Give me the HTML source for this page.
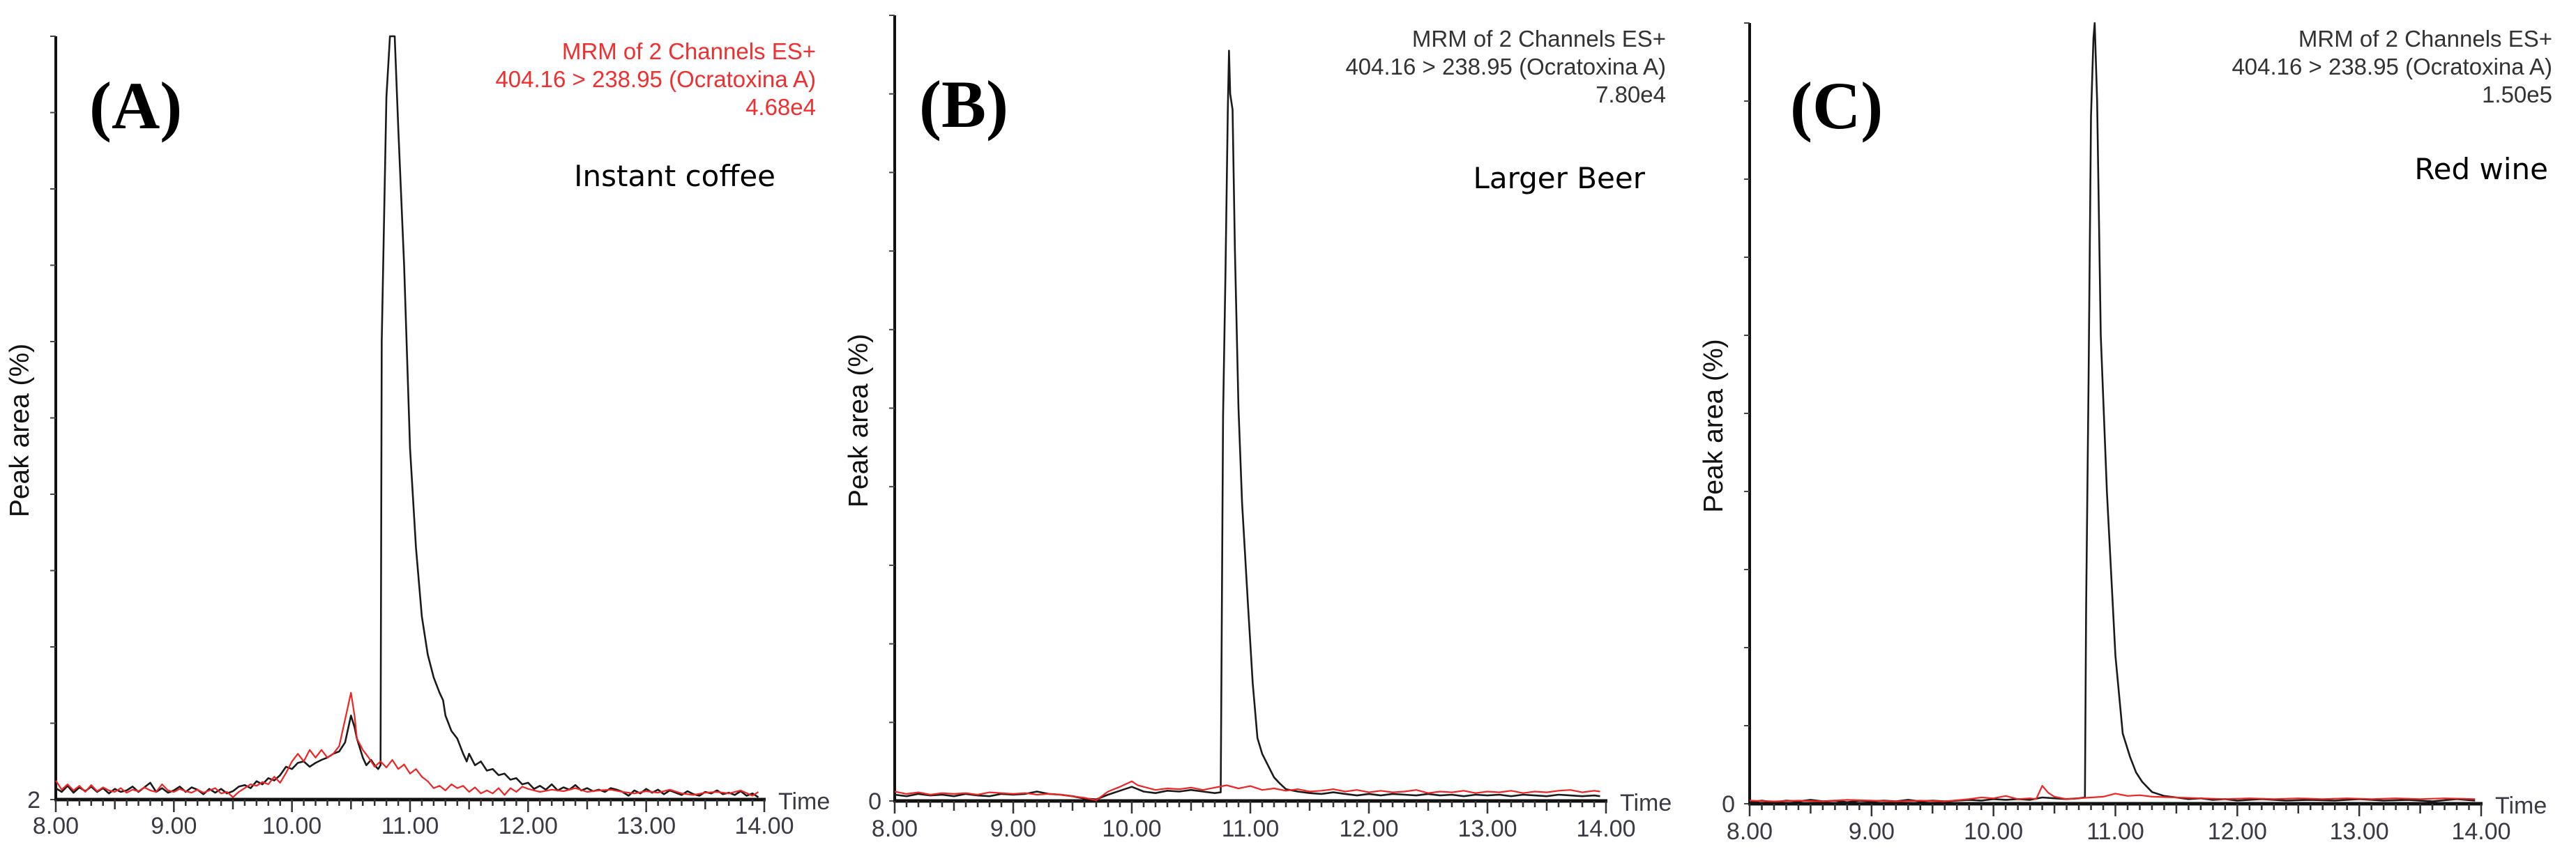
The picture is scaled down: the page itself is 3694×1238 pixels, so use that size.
<!DOCTYPE html>
<html><head><meta charset="utf-8"><style>
html,body{margin:0;padding:0;background:#fff;}
svg{display:block;}
</style></head><body>
<svg id="chart" width="3694" height="1238" viewBox="0 0 3694 1238" xmlns="http://www.w3.org/2000/svg"></svg>
<script>
// ---- data (time in min, intensity in % of full scale) ----
const xTickLabels = ["8.00","9.00","10.00","11.00","12.00","13.00","14.00"];
const xTickValues = [8,9,10,11,12,13,14];
const panelLetters = ["(A)","(B)","(C)"];
const sampleNames = ["Instant coffee","Larger Beer","Red wine"];
const intensityLabels = ["4.68e4","7.80e4","1.50e5"];
const yZeroLabels = ["2","0","0"];

const blackA = [[8.0,1.5],[8.05,1.0],[8.1,1.8],[8.15,0.9],[8.2,1.6],[8.25,1.1],[8.3,1.7],[8.35,1.0],[8.4,1.5],[8.45,0.8],[8.5,1.4],[8.55,1.0],[8.6,1.2],[8.65,1.7],[8.7,1.0],[8.8,2.2],[8.85,1.0],[8.9,1.5],[8.95,0.9],[9.0,1.2],[9.05,1.7],[9.1,1.0],[9.15,1.6],[9.2,1.3],[9.25,0.7],[9.3,1.4],[9.35,0.9],[9.4,1.4],[9.45,0.8],[9.5,1.1],[9.55,1.7],[9.6,1.9],[9.65,1.5],[9.7,2.4],[9.75,2.0],[9.8,2.8],[9.85,2.5],[9.9,3.2],[9.95,4.3],[10.0,4.0],[10.05,4.8],[10.1,5.0],[10.15,4.3],[10.2,4.8],[10.25,5.2],[10.3,5.5],[10.35,6.0],[10.4,6.3],[10.45,7.5],[10.5,11.0],[10.53,9.5],[10.55,8.0],[10.6,5.5],[10.63,4.5],[10.67,5.2],[10.7,4.5],[10.73,4.0],[10.75,4.5],[10.76,60],[10.8,92],[10.83,100],[10.87,100],[10.9,88],[10.95,70],[11.0,46],[11.05,33],[11.1,24],[11.15,19],[11.2,16],[11.25,14],[11.28,13],[11.3,11],[11.35,9],[11.4,8],[11.45,6],[11.48,5],[11.5,6],[11.55,4.5],[11.6,5],[11.65,3.8],[11.7,4.0],[11.75,3.2],[11.8,3.4],[11.85,2.6],[11.9,2.8],[11.95,2.0],[12.0,2.2],[12.05,1.4],[12.1,1.8],[12.15,1.3],[12.2,2.0],[12.25,1.2],[12.3,1.6],[12.35,1.3],[12.4,1.9],[12.45,1.2],[12.5,1.5],[12.55,1.1],[12.6,1.3],[12.65,1.0],[12.7,1.5],[12.75,1.3],[12.8,1.0],[12.85,0.5],[12.9,1.2],[12.95,0.8],[13.0,1.4],[13.05,0.9],[13.1,1.3],[13.15,0.7],[13.2,1.2],[13.25,0.9],[13.3,0.6],[13.35,1.1],[13.4,0.7],[13.45,0.5],[13.5,1.0],[13.55,0.8],[13.6,1.2],[13.65,0.7],[13.7,0.9],[13.75,0.6],[13.8,1.1],[13.85,0.5],[13.9,0.8],[13.95,0.3]];
const redA = [[8.0,2.5],[8.05,1.3],[8.1,2.0],[8.15,1.2],[8.2,1.8],[8.25,1.0],[8.3,1.9],[8.35,1.1],[8.4,1.6],[8.45,1.2],[8.5,1.0],[8.55,1.5],[8.6,0.9],[8.65,1.3],[8.7,1.1],[8.75,1.6],[8.8,1.2],[8.85,1.0],[8.9,2.0],[8.95,1.2],[9.0,1.0],[9.05,1.4],[9.1,1.1],[9.15,0.9],[9.2,1.3],[9.25,0.9],[9.3,1.2],[9.35,1.5],[9.4,0.8],[9.45,1.0],[9.5,0.3],[9.55,1.0],[9.6,1.5],[9.65,2.0],[9.7,1.8],[9.75,2.3],[9.8,2.0],[9.85,3.0],[9.9,2.2],[9.95,3.5],[10.0,5.0],[10.05,6.0],[10.1,5.0],[10.15,6.5],[10.2,5.5],[10.25,6.5],[10.3,5.5],[10.35,6.0],[10.4,7.0],[10.45,10.5],[10.5,14.0],[10.53,11.0],[10.55,8.0],[10.6,6.5],[10.65,5.5],[10.7,4.3],[10.75,5.0],[10.8,4.2],[10.85,5.2],[10.9,4.0],[10.95,4.6],[11.0,3.4],[11.05,4.0],[11.1,3.0],[11.15,2.4],[11.2,1.5],[11.25,1.8],[11.3,1.2],[11.35,2.0],[11.4,1.5],[11.45,1.8],[11.5,1.0],[11.55,1.6],[11.6,0.8],[11.65,1.2],[11.7,0.8],[11.75,1.5],[11.8,0.6],[11.85,1.5],[11.9,1.0],[11.95,1.7],[12.0,1.4],[12.1,1.0],[12.2,1.3],[12.3,1.1],[12.4,1.5],[12.5,1.0],[12.6,1.2],[12.7,1.3],[12.8,1.0],[12.9,0.8],[13.0,1.1],[13.1,0.9],[13.2,1.3],[13.3,0.8],[13.4,0.6],[13.5,0.9],[13.6,1.0],[13.7,0.8],[13.8,1.2],[13.9,0.5],[13.95,1.0]];

const blackB = [[8.0,0.8],[8.1,0.6],[8.2,0.9],[8.3,0.7],[8.4,0.8],[8.5,0.6],[8.6,0.9],[8.7,0.7],[8.8,0.6],[8.9,0.9],[9.0,0.8],[9.1,0.9],[9.2,1.2],[9.3,0.9],[9.4,0.8],[9.5,0.6],[9.6,0.3],[9.7,0.2],[9.8,0.8],[9.9,1.3],[10.0,1.8],[10.05,1.5],[10.1,1.2],[10.2,1.0],[10.3,1.3],[10.4,1.2],[10.5,1.4],[10.6,1.2],[10.7,1.0],[10.75,1.1],[10.76,25],[10.77,49],[10.79,67],[10.81,88],[10.82,95.5],[10.83,90],[10.85,88],[10.87,70],[10.9,50],[10.93,38],[10.98,25],[11.02,15],[11.06,8],[11.1,6],[11.15,4.5],[11.2,3],[11.25,2.2],[11.3,1.5],[11.4,1.2],[11.5,1.0],[11.6,0.9],[11.7,1.1],[11.8,0.9],[11.9,0.7],[12.0,0.9],[12.1,0.7],[12.2,0.9],[12.3,0.8],[12.4,0.7],[12.5,0.9],[12.6,0.7],[12.7,0.8],[12.8,0.6],[12.9,0.8],[13.0,0.7],[13.1,0.8],[13.2,0.6],[13.3,0.8],[13.4,0.7],[13.5,0.6],[13.6,0.8],[13.7,0.7],[13.8,0.6],[13.9,0.7],[13.95,0.6]];
const redB = [[8.0,1.2],[8.1,0.9],[8.2,1.1],[8.3,0.8],[8.4,1.0],[8.5,0.9],[8.6,1.0],[8.7,0.8],[8.8,1.1],[8.9,1.0],[9.0,0.9],[9.1,1.0],[9.2,0.8],[9.3,0.9],[9.4,0.8],[9.5,0.6],[9.6,0.4],[9.7,0.1],[9.8,1.2],[9.9,1.8],[10.0,2.5],[10.05,2.0],[10.1,1.8],[10.2,1.4],[10.3,1.6],[10.4,1.5],[10.5,1.7],[10.6,1.4],[10.7,1.7],[10.8,2.0],[10.9,1.6],[11.0,1.9],[11.1,1.4],[11.2,1.6],[11.3,1.3],[11.4,1.5],[11.5,1.2],[11.6,1.3],[11.7,1.5],[11.8,1.2],[11.9,1.4],[12.0,1.1],[12.1,1.3],[12.2,1.1],[12.3,1.2],[12.4,1.4],[12.5,1.0],[12.6,1.2],[12.7,1.1],[12.8,1.3],[12.9,1.0],[13.0,1.2],[13.1,1.1],[13.2,1.3],[13.3,1.0],[13.4,1.2],[13.5,1.1],[13.6,1.3],[13.7,1.4],[13.8,1.1],[13.9,1.3],[13.95,1.2]];

const blackC = [[8.0,0.2],[8.1,0.4],[8.2,0.2],[8.3,0.4],[8.4,0.3],[8.5,0.5],[8.6,0.3],[8.7,0.4],[8.8,0.2],[8.9,0.4],[9.0,0.3],[9.1,0.4],[9.2,0.3],[9.3,0.5],[9.4,0.3],[9.5,0.4],[9.6,0.3],[9.7,0.4],[9.8,0.5],[9.9,0.4],[10.0,0.6],[10.1,0.5],[10.2,0.6],[10.3,0.5],[10.4,0.8],[10.5,0.7],[10.6,0.6],[10.7,0.7],[10.75,0.8],[10.76,25],[10.78,54],[10.8,88],[10.82,98],[10.83,100],[10.85,90],[10.88,60],[10.93,40],[11.0,19],[11.06,9],[11.12,6],[11.17,4],[11.22,2.8],[11.3,1.5],[11.4,1.0],[11.5,0.8],[11.6,0.6],[11.7,0.7],[11.8,0.5],[11.9,0.6],[12.0,0.4],[12.2,0.6],[12.4,0.4],[12.6,0.5],[12.8,0.4],[13.0,0.6],[13.2,0.4],[13.4,0.5],[13.6,0.3],[13.8,0.6],[13.95,0.4]];
const redC = [[8.0,0.4],[8.2,0.3],[8.4,0.4],[8.6,0.3],[8.8,0.5],[9.0,0.4],[9.2,0.3],[9.4,0.4],[9.6,0.3],[9.8,0.6],[9.9,0.8],[10.0,0.7],[10.1,1.0],[10.2,0.6],[10.3,0.7],[10.35,0.6],[10.4,2.3],[10.45,1.4],[10.5,0.9],[10.6,0.6],[10.7,0.7],[10.8,0.8],[10.9,0.9],[11.0,1.3],[11.1,1.0],[11.2,1.1],[11.3,0.9],[11.5,0.8],[11.7,0.7],[11.9,0.6],[12.1,0.7],[12.3,0.6],[12.5,0.7],[12.7,0.6],[12.9,0.7],[13.1,0.6],[13.3,0.7],[13.5,0.6],[13.7,0.7],[13.95,0.6]];

const blackSeries = [blackA, blackB, blackC];
const redSeries = [redA, redB, redC];

// ---- layout ----
const panels = [
  {x0:80, x1:1096, yTop:52, yBase:1147, textColor:"#f03030", textRight:1170, textY:[85,125,165], letterX:128, letterY:184, nameX:1112, nameY:267, tickY:1196, zeroX:58},
  {x0:1283, x1:2303, yTop:22, yBase:1149, textColor:"#333", textRight:2389, textY:[67,107,147], letterX:1318, letterY:182, nameX:2359, nameY:270, tickY:1200, zeroX:1264},
  {x0:2509, x1:3558, yTop:33, yBase:1153, textColor:"#333", textRight:3660, textY:[67,107,147], letterX:2567, letterY:184, nameX:3654, nameY:257, tickY:1204, zeroX:2488}
];
const peakTopY = [52, 69, 33];

const NS = "http://www.w3.org/2000/svg";
const svg = document.getElementById('chart');
function mk(tag, attrs, parent){
  const e = document.createElementNS(NS, tag);
  for (const k in attrs) e.setAttribute(k, attrs[k]);
  (parent||svg).appendChild(e);
  return e;
}

panels.forEach((p, i) => {
  const g = mk('g', {});
  
  
  const xs = t => p.x0 + (t - 8) / 6 * (p.x1 - p.x0);
  const ys = v => p.yBase - v / 100 * (p.yBase - p.yTop);

  // y axis
  const ya = mk('line', {x1:p.x0, y1:p.yTop, x2:p.x0, y2:p.yBase, stroke:'#111', 'stroke-width':4}, g);
  
  
  for (let k = 0; k <= 10; k++) {
    const yy = p.yBase - k * (p.yBase - p.yTop) / 10;
    const tk = mk('line', {x1:p.x0 - 8, y1:yy, x2:p.x0, y2:yy, stroke:'#444', 'stroke-width':2}, g);
    
    
  }
  // x axis
  const xa = mk('line', {x1:p.x0 - 2, y1:p.yBase, x2:p.x1 + 2, y2:p.yBase, stroke:'#111', 'stroke-width':5}, g);
  
  
  for (let k = 0; k <= 60; k++) {
    const t = 8 + k / 10;
    const len = (k % 10 === 0) ? 18 : (k % 5 === 0 ? 14 : 9);
    const tk = mk('line', {x1:xs(t), y1:p.yBase, x2:xs(t), y2:p.yBase + len, stroke:'#333', 'stroke-width':2.5}, g);
    
    
  }
  xTickValues.forEach((tv, j) => {
    const tl = mk('text', {x:xs(tv), y:p.tickY, 'text-anchor':'middle', 'font-family':'Liberation Sans, sans-serif', 'font-size':34, fill:'#3a3a44'}, g);
    tl.textContent = xTickLabels[j];
    
    
  });
  const tt = mk('text', {x:p.x1 + 20, y:p.yBase + 14, 'font-family':'Liberation Sans, sans-serif', 'font-size':34, fill:'#3a3a44'}, g);
  tt.textContent = 'Time';
  
  
  const z = mk('text', {x:p.zeroX, y:p.yBase + 12, 'text-anchor':'end', 'font-family':'Liberation Sans, sans-serif', 'font-size':34, fill:'#3a3a44'}, g);
  z.textContent = yZeroLabels[i];
  
  

  const yl = mk('text', {x:0, y:0, transform:`translate(${p.x0 - 39},${(p.yTop + p.yBase) / 2 + 18}) rotate(-90)`, 'text-anchor':'middle', 'font-family':'Liberation Sans, sans-serif', 'font-size':39, fill:'#111'}, g);
  yl.textContent = 'Peak area (%)';
  
  

  // series
  const toPath = arr => arr.map((d, k) => (k ? 'L' : 'M') + xs(d[0]).toFixed(1) + ',' + ys(d[1]).toFixed(1)).join(' ');
  const bl = mk('path', {d:toPath(blackSeries[i]), fill:'none', stroke:'#1a1a1a', 'stroke-width':2.6, 'stroke-linejoin':'round'}, g);
  
  
  const rl = mk('path', {d:toPath(redSeries[i]), fill:'none', stroke:'#f02424', 'stroke-width':2.2, 'stroke-linejoin':'round'}, g);
  
  

  // header text
  const lines = ['MRM of 2 Channels ES+', '404.16 > 238.95 (Ocratoxina A)', intensityLabels[i]];
  lines.forEach((s, j) => {
    const t = mk('text', {x:p.textRight, y:p.textY[j], 'text-anchor':'end', 'font-family':'Liberation Sans, sans-serif', 'font-size':33, fill:p.textColor}, g);
    t.textContent = s;
    
    
  });
  const L = mk('text', {x:p.letterX, y:p.letterY, 'font-family':'Liberation Serif, serif', 'font-weight':'bold', 'font-size':96, fill:'#000'}, g);
  L.textContent = panelLetters[i];
  
  
  const N = mk('text', {x:p.nameX, y:p.nameY, 'text-anchor':'end', 'font-family':'DejaVu Sans, sans-serif', 'font-size':42, fill:'#000'}, g);
  N.textContent = sampleNames[i];
  
  
});
</script>
</body></html>
